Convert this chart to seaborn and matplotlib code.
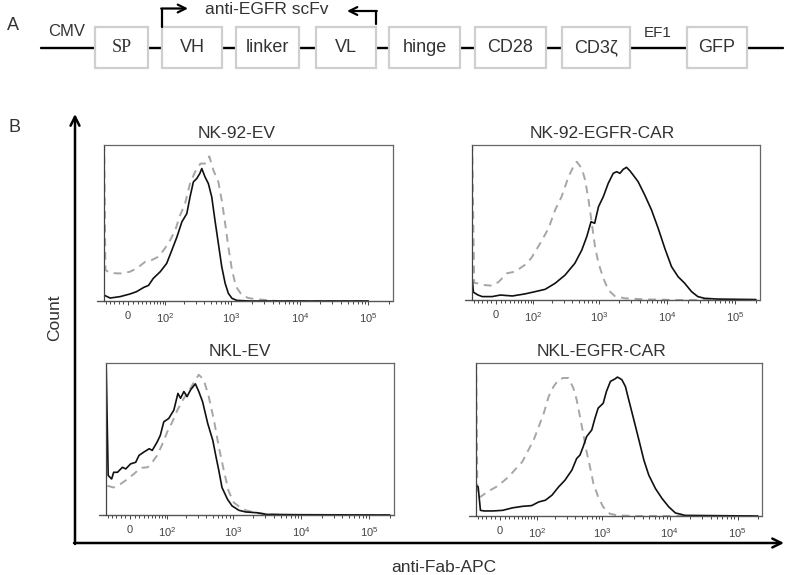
import numpy as np
import pandas as pd
import seaborn as sns
import matplotlib.pyplot as plt
from matplotlib.patches import Rectangle

# ---- panel A: construct map ----
parts = ['SP', 'VH', 'linker', 'VL', 'hinge', 'CD28', 'CD3ζ', 'GFP']
part_left = [95, 162, 236, 316, 389, 475, 562, 687]
part_right = [148, 222, 299, 376, 460, 546, 630, 747]

# ---- panel B: flow histograms (anti-Fab-APC intensity, % of max count) ----
titles = ['NK-92-EV', 'NK-92-EGFR-CAR', 'NKL-EV', 'NKL-EGFR-CAR']

# NK-92-EV
tl_solid_x = [-56, -40, -17, 4, 18, 34, 46, 59, 81, 105, 128, 154, 184, 219, 245, 275, 309, 343, 367,
              410, 459, 515, 574, 644, 722, 810, 902, 1020, 1200, 1870, 100000]
tl_solid_y = [3.8, 1.9, 2.8, 4.5, 6, 8.7, 10, 14.5, 18.8, 24.1, 32.6, 41, 50.7, 56, 66.7, 76.3, 78.5, 81.7, 84.9,
              79.5, 75.3, 66.7, 51.8, 36.9, 22, 11.3, 4.9, 1.7, 0.4, 0, 0]
tl_dash_x = [-56, -52, -40, -24, -10, 4, 18, 38, 54, 75, 98, 120, 145, 173, 206, 245, 291, 351, 410, 475,
             545, 644, 722, 810, 902, 1020, 1170, 1420, 1770, 2340, 3300, 4600, 100000]
tl_dash_y = [110, 19.8, 18.1, 17.7, 17.7, 18.8, 20.9, 25.2, 26.2, 28.4, 33.7, 39, 45.4, 55, 62.5, 75.3, 82.7, 88.1, 88.1, 92.7,
             83.8, 76.3, 64.6, 49.7, 34.8, 19.8, 9.2, 3.8, 1.9, 1.1, 0.6, 0, 0]

# NK-92-EGFR-CAR
tr_solid_x = [-56, -52, -40, -30, -8, 9, 36, 70, 108, 157, 224, 316, 442, 560, 662, 765, 865, 985, 1160, 1370,
              1620, 1820, 2030, 2270, 2540, 2840, 3180, 3760, 4700, 5900, 7400, 9250, 11600, 14500, 18100, 22800,
              28200, 35200, 55000, 127000, 200000]
tr_solid_y = [15, 5, 3.2, 2.2, 2.2, 3.2, 2.6, 3.9, 5.4, 6.9, 10.8, 16.1, 23.7, 32.3, 40.9, 50.5, 49.5, 60.2, 66.7, 75.3,
              81.7, 82.8, 81.7, 84.3, 85.6, 83.4, 80.6, 76.3, 67.7, 58.1, 46.2, 33.3, 21.5, 15, 10.8, 5.4,
              2.2, 1.1, 0.6, 0.4, 0.3]
tr_dash_x = [-56, -50, -42, -27, -8, 6, 23, 43, 70, 92, 131, 177, 224, 280, 356, 420, 470, 560, 626, 703,
             785, 875, 985, 1160, 1370, 1700, 2400, 4700, 14500, 200000]
tr_dash_y = [110, 11, 10.8, 9.7, 9.2, 11.8, 17.2, 18.3, 22.6, 26.9, 36.6, 46.2, 58.1, 66.7, 79.6, 86, 89.2, 84.9, 77.4, 64.5,
             49.5, 34.4, 23.7, 14, 6.5, 2.6, 1.1, 0.4, 0, 0]

# NKL-EV
bl_solid_x = [-56, -50, -41, -36, -27, -16, -9, 1, 12, 19, 30, 43, 51, 65, 75, 87, 106, 129, 150, 165,
              186, 208, 235, 278, 313, 356, 425, 505, 558, 620, 690, 830, 970, 1220, 1540, 2250, 3100, 8600, 200000]
bl_solid_y = [105, 26, 23.7, 28.1, 28.1, 31.4, 30.3, 33.6, 34.7, 39.2, 41.4, 43.6, 42.5, 48, 52.4, 61.3, 63.5, 69, 80, 76.8,
              81.2, 77.9, 82.3, 86.3, 81.2, 74.6, 60.2, 49.1, 39.2, 29.2, 18.1, 10.4, 6, 3.1, 2, 1.5, 0.4, 0.2, 0]
bl_dash_x = [-52, -36, -20, -5, 8, 23, 39, 51, 65, 80, 100, 122, 147, 186, 235, 278, 313, 371, 440, 525,
             620, 735, 860, 1030, 1290, 1540, 2250, 3500, 6000, 200000]
bl_dash_y = [19.2, 18.1, 20.4, 23.7, 27, 31, 31.4, 34.7, 39.2, 45.8, 54.6, 61.3, 69, 76.8, 83.4, 88.9, 92.3, 88.9, 77.9, 62.4,
             44.7, 29.2, 15.9, 8.2, 4.9, 3.1, 1.3, 0.4, 0, 0]

# NKL-EGFR-CAR
br_solid_x = [-56, -50, -44, -35, -15, 6, 27, 52, 81, 108, 139, 177, 224, 280, 356, 420, 470, 525, 590, 703,
              785, 875, 1040, 1160, 1330, 1540, 1690, 1960, 2210, 2480, 2950, 3500, 4150, 4900, 6150, 7700,
              9700, 12100, 16900, 200000]
br_solid_y = [20, 19, 3.7, 3.3, 3.3, 3.7, 5.3, 6.3, 6.8, 9.2, 10.3, 13.6, 19, 23.4, 30, 37.6, 39.8, 45.3, 51.9, 56.2,
              63.9, 70.5, 73.7, 81.4, 88, 89.5, 90.8, 89.1, 84.7, 75.9, 62.8, 49.7, 36.5, 26.7, 17.9, 11.4,
              5.9, 2, 0.4, 0]
br_dash_x = [-56, -52, -44, -27, -8, 6, 20, 36, 52, 70, 88, 108, 131, 157, 188, 224, 265, 316, 375, 420,
             470, 525, 590, 662, 745, 875, 1040, 1300, 1700, 3000, 200000]
br_dash_y = [110, 13, 12.5, 15.8, 19, 22.3, 26, 31.1, 35.4, 43.1, 49.7, 58.4, 67.2, 78.1, 84.7, 89.1, 90.2, 90.2, 83.6, 75.9,
             65, 54, 42, 32.2, 21.2, 12.5, 5.9, 1.5, 0.4, 0, 0]

solid_x = [tl_solid_x, tr_solid_x, bl_solid_x, br_solid_x]
solid_y = [tl_solid_y, tr_solid_y, bl_solid_y, br_solid_y]
dash_x = [tl_dash_x, tr_dash_x, bl_dash_x, br_dash_x]
dash_y = [tl_dash_y, tr_dash_y, bl_dash_y, br_dash_y]

major_ticks = [0, 100, 1000, 10000, 100000]
major_labels = ['0', r'$\mathregular{10^{2}}$', r'$\mathregular{10^{3}}$',
                r'$\mathregular{10^{4}}$', r'$\mathregular{10^{5}}$']
minor_ticks = ([-50, -40, -30, -20, -10] + list(range(10, 100, 10)) + list(range(200, 1000, 100))
               + list(range(2000, 10000, 1000)) + list(range(20000, 100000, 10000)) + [200000])

sns.set_style('white')
plt.rcParams['font.family'] = ['Liberation Sans', 'DejaVu Sans']
txt = '#333333'

W, H = 787, 575
fig = plt.figure(figsize=(W / 100, H / 100), dpi=100)
fig.patch.set_facecolor('white')

# background axes in pixel units for the diagram / big arrows
bg = fig.add_axes([0, 0, 1, 1])
bg.set_xlim(0, W)
bg.set_ylim(H, 0)
bg.axis('off')

# --- A ---
bg.text(13, 26, 'A', fontsize=13, color=txt, ha='center', va='center')
bg.plot([41, 783], [47.5, 47.5], color='black', lw=1.7, zorder=1)
for name, x0, x1 in zip(parts, part_left, part_right):
    bg.add_patch(Rectangle((x0, 27), x1 - x0, 41, facecolor='white', edgecolor='#cfcfcf', lw=1.6, zorder=2))
    fam = ['Liberation Serif'] if name == 'SP' else ['Liberation Sans', 'DejaVu Sans']
    bg.text((x0 + x1) / 2, 48, name, fontsize=13, color=txt, ha='center', va='center', family=fam, zorder=3)
bg.text(67, 32, 'CMV', fontsize=12, color=txt, ha='center', va='center')
bg.text(658, 33, 'EF1', fontsize=11, color=txt, ha='center', va='center')
bg.text(267, 10, 'anti-EGFR scFv', fontsize=12.5, color=txt, ha='center', va='center')
bg.plot([162, 162], [27, 8.5], color='black', lw=1.6)
bg.annotate('', xy=(188, 8.5), xytext=(161.2, 8.5),
            arrowprops=dict(arrowstyle='->', lw=1.6, color='black', mutation_scale=14, shrinkA=0, shrinkB=0))
bg.plot([376, 376], [24, 11], color='black', lw=1.6)
bg.annotate('', xy=(347, 11), xytext=(376.8, 11),
            arrowprops=dict(arrowstyle='->', lw=1.6, color='black', mutation_scale=14, shrinkA=0, shrinkB=0))

# --- B ---
bg.text(15, 128, 'B', fontsize=13, color=txt, ha='center', va='center')
bg.annotate('', xy=(75, 114), xytext=(75, 544),
            arrowprops=dict(arrowstyle='->', lw=1.8, color='black', mutation_scale=16, shrinkA=0, shrinkB=0))
bg.annotate('', xy=(784, 543), xytext=(74, 543),
            arrowprops=dict(arrowstyle='->', lw=1.8, color='black', mutation_scale=16, shrinkA=0, shrinkB=0))
bg.text(55, 318, 'Count', fontsize=12.5, color=txt, ha='center', va='center', rotation=90)
bg.text(444, 567, 'anti-Fab-APC', fontsize=12.5, color=txt, ha='center', va='center')

rects = [(104, 145, 289, 156), (472, 145, 288, 155), (106, 363, 288, 152), (476, 363, 286, 153)]
title_pos = [(237, 133), (602, 133), (240, 351), (602, 351)]

for i in range(4):
    l, t, w, h = rects[i]
    ax = fig.add_axes([l / W, 1 - (t + h) / H, w / W, h / H])
    ax.set_xscale('asinh', linear_width=62)
    sns.lineplot(x=dash_x[i], y=dash_y[i], ax=ax, color='#a6a6a6', lw=1.4,
                 linestyle=(0, (4, 3)), estimator=None, sort=False)
    sns.lineplot(x=solid_x[i], y=solid_y[i], ax=ax, color='#111111', lw=1.2,
                 estimator=None, sort=False)
    ax.set_xlim(-56, 230000)
    ax.set_ylim(0, 100)
    ax.set_yticks([])
    ax.set_xticks(major_ticks)
    ax.set_xticklabels(major_labels, fontsize=8, color='#444444')
    ax.set_xticks(minor_ticks, minor=True)
    ax.tick_params(axis='x', which='both', direction='out', length=2.5, width=0.7,
                   color='#444444', pad=4, bottom=True)
    ax.tick_params(axis='x', which='major', length=3)
    ax.set_xlabel('')
    ax.set_ylabel('')
    for s in ['top', 'right', 'left']:
        ax.spines[s].set_color('#666666')
        ax.spines[s].set_linewidth(0.9)
    ax.spines['left'].set_color('#444444')
    ax.spines['bottom'].set_visible(False)
    ax.axhline(0, xmin=-0.025, xmax=1, color='#555555', lw=1.0, clip_on=False)
    bg.text(title_pos[i][0], title_pos[i][1], titles[i], fontsize=12.5, color=txt,
            ha='center', va='center')

fig.savefig('out.png', dpi=100, facecolor='white')
